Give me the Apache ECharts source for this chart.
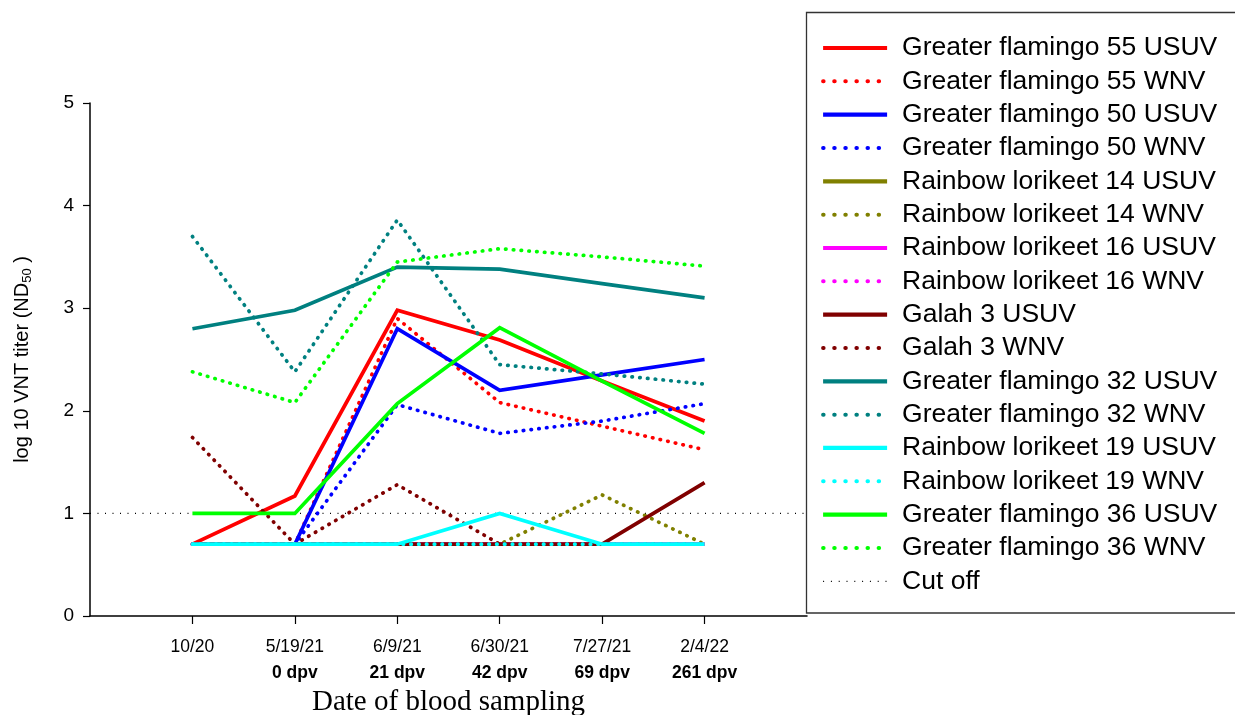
<!DOCTYPE html>
<html>
<head>
<meta charset="utf-8">
<title>Neutralizing antibody titers</title>
<script src="https://cdn.jsdelivr.net/npm/echarts@6/dist/echarts.min.js"></script>
<style>
  html, body { margin: 0; padding: 0; background: #fff; }
  #chart { width: 1235px; height: 715px; }
</style>
</head>
<body>
<div id="chart"></div>
<script>
// Sampling dates and days post vaccination
const sampleDates = ['10/20', '5/19/21', '6/9/21', '6/30/21', '7/27/21', '2/4/22'];
const dpvLabels = ['', '0 dpv', '21 dpv', '42 dpv', '69 dpv', '261 dpv'];
const yTicks = [0, 1, 2, 3, 4, 5];

// log10 VNT titers (ND50) per bird and virus, one value per sampling date
const gf55Usuv = [0.70, 1.17, 2.98, 2.69, 2.29, 1.90];
const gf55Wnv  = [0.70, 0.70, 2.90, 2.08, 1.85, 1.62];
const gf50Usuv = [0.70, 0.70, 2.80, 2.20, 2.35, 2.50];
const gf50Wnv  = [0.70, 0.70, 2.06, 1.78, 1.90, 2.07];
const rl14Usuv = [0.70, 0.70, 0.70, 0.70, 0.70, 0.70];
const rl14Wnv  = [0.70, 0.70, 0.70, 0.70, 1.18, 0.70];
const rl16Usuv = [0.70, 0.70, 0.70, 0.70, 0.70, 0.70];
const rl16Wnv  = [0.70, 0.70, 0.70, 0.70, 0.70, 0.70];
const galah3Usuv = [0.70, 0.70, 0.70, 0.70, 0.70, 1.30];
const galah3Wnv  = [1.74, 0.70, 1.28, 0.70, 0.70, 0.70];
const gf32Usuv = [2.80, 2.98, 3.40, 3.38, 3.24, 3.10];
const gf32Wnv  = [3.70, 2.38, 3.86, 2.45, 2.36, 2.26];
const rl19Usuv = [0.70, 0.70, 0.70, 1.00, 0.70, 0.70];
const rl19Wnv  = [0.70, 0.70, 0.70, 0.70, 0.70, 0.70];
const gf36Usuv = [1.00, 1.00, 2.07, 2.81, 2.29, 1.78];
const gf36Wnv  = [2.38, 2.08, 3.45, 3.58, 3.50, 3.41];
const cutOff = 1;

const seriesDefs = [
  ['Greater flamingo 55 USUV', gf55Usuv, '#ff0000', false],
  ['Greater flamingo 55 WNV', gf55Wnv, '#ff0000', true],
  ['Greater flamingo 50 USUV', gf50Usuv, '#0000ff', false],
  ['Greater flamingo 50 WNV', gf50Wnv, '#0000ff', true],
  ['Rainbow lorikeet 14 USUV', rl14Usuv, '#808000', false],
  ['Rainbow lorikeet 14 WNV', rl14Wnv, '#808000', true],
  ['Rainbow lorikeet 16 USUV', rl16Usuv, '#ff00ff', false],
  ['Rainbow lorikeet 16 WNV', rl16Wnv, '#ff00ff', true],
  ['Galah 3 USUV', galah3Usuv, '#800000', false],
  ['Galah 3 WNV', galah3Wnv, '#800000', true],
  ['Greater flamingo 32 USUV', gf32Usuv, '#008080', false],
  ['Greater flamingo 32 WNV', gf32Wnv, '#008080', true],
  ['Rainbow lorikeet 19 USUV', rl19Usuv, '#00ffff', false],
  ['Rainbow lorikeet 19 WNV', rl19Wnv, '#00ffff', true],
  ['Greater flamingo 36 USUV', gf36Usuv, '#00ff00', false],
  ['Greater flamingo 36 WNV', gf36Wnv, '#00ff00', true]
];

const series = seriesDefs.map(([name, values, color, dotted]) => ({
  name: name,
  type: 'line',
  data: values.map((v, i) => [i + 1, v]),
  symbol: 'none',
  z: 3,
  lineStyle: {
    color: color,
    width: 3.7,
    type: dotted ? [0.5, 7.3] : 'solid',
    cap: dotted ? 'round' : 'butt',
    join: 'miter'
  },
  itemStyle: { color: color }
}));

// Cut-off line spanning the whole x range
series.push({
  name: 'Cut off',
  type: 'line',
  data: [[0, cutOff], [sampleDates.length + 1, cutOff]],
  symbol: 'none',
  z: 1,
  lineStyle: { color: '#000', width: 1.3, type: [1, 6.5] },
  itemStyle: { color: '#000' }
});

// Legend samples: thick solid strokes, sparser dots
const legendData = seriesDefs.map(([name, values, color, dotted]) => ({
  name: name,
  itemStyle: { color: 'transparent', borderWidth: 0, opacity: 0 },
  lineStyle: dotted
    ? { color: color, width: 4, type: [0.5, 10.6], cap: 'round' }
    : { color: color, width: 4.2, type: 'solid', cap: 'butt' }
}));
legendData.push({
  name: 'Cut off',
  itemStyle: { color: 'transparent', borderWidth: 0, opacity: 0 },
  lineStyle: { color: '#000', width: 1.3, type: [1, 6.8] }
});

const chart = echarts.init(document.getElementById('chart'), null, { renderer: 'canvas' });

chart.setOption({
  animation: false,
  backgroundColor: '#fff',
  grid: { left: 90, right: 428, top: 103, bottom: 99, containLabel: false, outerBoundsMode: 'none' },
  xAxis: {
    type: 'value',
    min: 0,
    max: sampleDates.length + 1,
    interval: 1,
    splitLine: { show: false },
    axisLine: { lineStyle: { color: '#000', width: 1.5 } },
    axisTick: {
      show: true, length: 8, inside: false,
      customValues: sampleDates.map((d, i) => i + 1),
      lineStyle: { color: '#000', width: 1.2 }
    },
    axisLabel: {
      customValues: sampleDates.map((d, i) => i + 1),
      margin: 18,
      formatter: function (v) {
        const i = Math.round(v) - 1;
        if (i < 0 || i >= sampleDates.length) return '';
        return dpvLabels[i] ? '{d|' + sampleDates[i] + '}\n{b|' + dpvLabels[i] + '}' : '{d|' + sampleDates[i] + '}';
      },
      rich: {
        d: { fontFamily: 'Liberation Sans', fontSize: 17.5, color: '#000', lineHeight: 26 },
        b: { fontFamily: 'Liberation Sans', fontSize: 17.5, fontWeight: 'bold', color: '#000', lineHeight: 26 }
      }
    },
    name: 'Date of blood sampling',
    nameLocation: 'middle',
    nameGap: 72,
    nameTextStyle: { fontFamily: 'Liberation Serif', fontSize: 29, color: '#000' }
  },
  yAxis: {
    type: 'value',
    min: yTicks[0],
    max: yTicks[yTicks.length - 1],
    interval: 1,
    splitLine: { show: false },
    axisLine: { show: true, lineStyle: { color: '#000', width: 1.5 } },
    axisTick: { show: true, length: 7, lineStyle: { color: '#000', width: 1.2 } },
    axisLabel: { fontFamily: 'Liberation Sans', fontSize: 19, color: '#000', margin: 16 },
    name: '{a|log 10 VNT titer (ND}{s|50}{a| )}',
    nameLocation: 'middle',
    nameRotate: 90,
    nameGap: 56,
    nameTextStyle: {
      rich: {
        a: { fontFamily: 'Liberation Sans', fontSize: 20, color: '#000', lineHeight: 24 },
        s: { fontFamily: 'Liberation Sans', fontSize: 13, color: '#000', lineHeight: 24, verticalAlign: 'bottom' }
      }
    }
  },
  legend: {
    orient: 'vertical',
    left: 821,
    top: 33,
    padding: 0,
    itemWidth: 64,
    itemHeight: 14,
    itemGap: 3.33,
    data: legendData,
    textStyle: {
      fontFamily: 'Liberation Sans',
      fontSize: 26.5,
      color: '#000',
      lineHeight: 30,
      padding: [0, 0, 0, 10]
    },
    selectedMode: false
  },
  graphic: [{
    type: 'rect',
    shape: { x: 806.5, y: 12.5, width: 440, height: 600.5 },
    style: { fill: 'none', stroke: '#333', lineWidth: 1.3 },
    silent: true
  }],
  series: series
});
</script>
</body>
</html>
